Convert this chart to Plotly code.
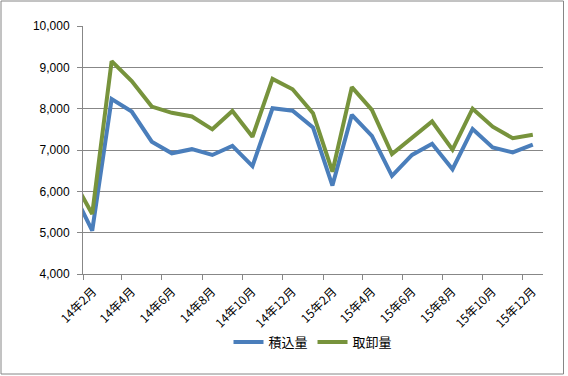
import plotly.graph_objects as go

months = ["2014-01-01", "2014-02-01", "2014-03-01", "2014-04-01", "2014-05-01", "2014-06-01",
          "2014-07-01", "2014-08-01", "2014-09-01", "2014-10-01", "2014-11-01", "2014-12-01",
          "2015-01-01", "2015-02-01", "2015-03-01", "2015-04-01", "2015-05-01", "2015-06-01",
          "2015-07-01", "2015-08-01", "2015-09-01", "2015-10-01", "2015-11-01", "2015-12-01"]

loading = [6000, 5050, 8230, 7930, 7200, 6920, 7020, 6880, 7100, 6610, 8010, 7950,
           7545, 6140, 7850, 7340, 6375, 6880, 7150, 6535, 7510, 7060, 6940, 7130]
unloading = [6300, 5450, 9150, 8670, 8050, 7900, 7810, 7500, 7945, 7320, 8720, 8470,
             7890, 6475, 8520, 7970, 6900, 7290, 7690, 7010, 8000, 7565, 7285, 7370]

series_names = ["積込量", "取卸量"]
tick_dates = ["2014-02-01", "2014-04-01", "2014-06-01", "2014-08-01", "2014-10-01", "2014-12-01",
              "2015-02-01", "2015-04-01", "2015-06-01", "2015-08-01", "2015-10-01", "2015-12-01"]
tick_labels = ["14年2月", "14年4月", "14年6月", "14年8月", "14年10月", "14年12月",
               "15年2月", "15年4月", "15年6月", "15年8月", "15年10月", "15年12月"]

W, H = 568, 376
L, R, T, B = 83, 25, 26, 102
pw, ph = W - L - R, H - T - B

fig = go.Figure()
fig.add_trace(go.Scatter(x=months, y=loading, name=series_names[0], mode="lines",
                         line=dict(color="#4A7EBB", width=4),
                         xperiod="M1", xperiodalignment="middle"))
fig.add_trace(go.Scatter(x=months, y=unloading, name=series_names[1], mode="lines",
                         line=dict(color="#77933C", width=4),
                         xperiod="M1", xperiodalignment="middle"))

grid = "#878787"
font_fam = "Liberation Sans, Arial, Noto Sans CJK JP, sans-serif"

def px_x(p):
    return (p - L) / pw

def px_y(p):
    return (H - B - p) / ph

fig.update_layout(
    width=W, height=H,
    margin=dict(l=L, r=R, t=T, b=B, autoexpand=False),
    paper_bgcolor="white", plot_bgcolor="white",
    font=dict(family=font_fam, size=12, color="#000000"),
    showlegend=True,
    legend=dict(orientation="h", x=0.5, xanchor="center", y=px_y(342), yanchor="middle",
                font=dict(size=13, family="Noto Sans CJK JP, sans-serif"),
                itemwidth=30, bgcolor="rgba(0,0,0,0)"),
    xaxis=dict(type="date", range=["2014-02-01", "2016-01-01"], automargin=False,
               tickmode="array", tickvals=tick_dates, ticktext=tick_labels,
               tickangle=-45, ticks="outside", ticklen=5, tickcolor=grid,
               showline=True, linecolor=grid, linewidth=1,
               showgrid=False, zeroline=False,
               ticklabelshift=10,
               tickfont=dict(size=12, family="Noto Sans CJK JP, sans-serif")),
    yaxis=dict(range=[4000, 10000], dtick=1000, tickformat=",d", automargin=False,
               ticks="outside", ticklen=5, tickcolor=grid,
               showline=True, linecolor=grid, linewidth=1,
               showgrid=True, gridcolor=grid, gridwidth=1, zeroline=False,
               ticklabelstandoff=5,
               tickfont=dict(size=12)),
    shapes=[dict(type="rect", xref="paper", yref="paper",
                 x0=px_x(1), x1=px_x(563.5), y0=px_y(374), y1=px_y(1),
                 line=dict(color="#868686", width=1), layer="below")],
)

fig.write_html("out.html", config={"displayModeBar": False},
               post_script="document.body.style.margin='0';document.body.style.padding='0';")
